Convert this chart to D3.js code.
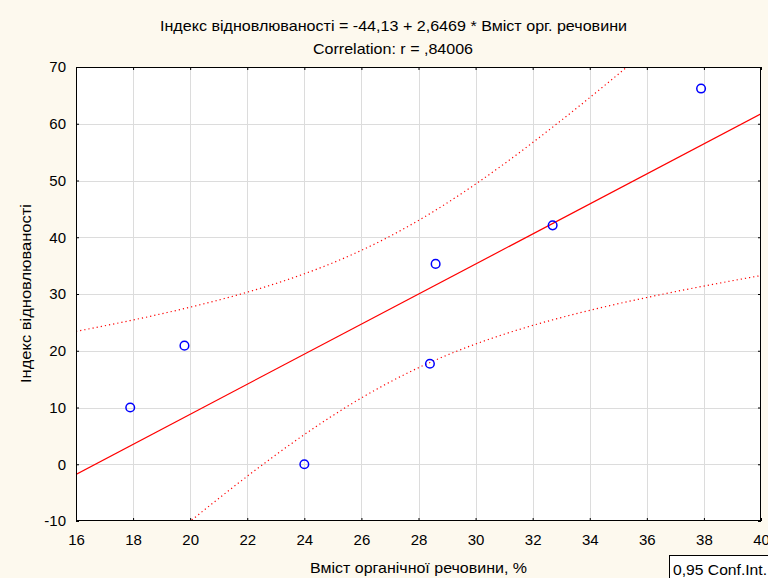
<!DOCTYPE html>
<html>
<head>
<meta charset="utf-8">
<script src="https://cdn.jsdelivr.net/npm/d3@7"></script>
<style>
  html, body { margin: 0; padding: 0; background: #fdf9ee; }
  svg { display: block; }
  text { font-family: "Liberation Sans", Arial, sans-serif; fill: #000; }
</style>
</head>
<body>
<svg id="chart" width="768" height="578"></svg>
<script>
// Organic matter content (%) and recovery index for each sample
const organic  = [17.9, 19.8, 24.0, 28.4, 28.6, 32.7, 37.9];
const recovery = [10.0, 20.9, 0.0, 17.7, 35.3, 42.1, 66.2];

// Fitted regression coefficients and confidence level
const intercept = -44.13;
const slope = 2.6469;
const tCrit = 2.5706; // Student t, 0.975, df = 5

const xTicks = [16, 18, 20, 22, 24, 26, 28, 30, 32, 34, 36, 38, 40];
const yTicks = [-10, 0, 10, 20, 30, 40, 50, 60, 70];

const titleText = "Індекс відновлюваності = -44,13 + 2,6469 * Вміст орг. речовини";
const subtitleText = "Correlation: r = ,84006";
const xLabel = "Вміст органічної речовини, %";
const yLabel = "Індекс відновлюваності";
const legendText = "0,95 Conf.Int.";

const svg = d3.select("#chart");
const m = { left: 76, right: 761, top: 67, bottom: 521 };

const x = d3.scaleLinear().domain([16, 40]).range([m.left, m.right]);
const y = d3.scaleLinear().domain([-10, 70]).range([m.bottom, m.top]);

// plot area
svg.append("rect")
  .attr("x", m.left).attr("y", m.top)
  .attr("width", m.right - m.left).attr("height", m.bottom - m.top)
  .attr("fill", "#fff");

// grid
const grid = svg.append("g").attr("stroke", "#dcdcdc").attr("stroke-width", 1);
grid.selectAll(".gx").data(xTicks.slice(1, -1)).join("line")
  .attr("x1", d => Math.round(x(d)) + 0.5).attr("x2", d => Math.round(x(d)) + 0.5)
  .attr("y1", m.top).attr("y2", m.bottom);
grid.selectAll(".gy").data(yTicks.slice(1, -1)).join("line")
  .attr("y1", d => Math.round(y(d)) + 0.5).attr("y2", d => Math.round(y(d)) + 0.5)
  .attr("x1", m.left).attr("x2", m.right);

// regression statistics for the confidence band
const n = organic.length;
const xMean = d3.mean(organic);
const sxx = d3.sum(organic, v => (v - xMean) ** 2);
const sse = d3.sum(organic, (v, i) => (recovery[i] - (intercept + slope * v)) ** 2);
const s = Math.sqrt(sse / (n - 2));
const fit = v => intercept + slope * v;
const half = v => tCrit * s * Math.sqrt(1 / n + (v - xMean) ** 2 / sxx);

const xs = d3.range(16, 40.001, 0.1);
svg.append("clipPath").attr("id", "plotclip").append("rect")
  .attr("x", m.left).attr("y", m.top)
  .attr("width", m.right - m.left).attr("height", m.bottom - m.top);

const plot = svg.append("g").attr("clip-path", "url(#plotclip)");
const line = d3.line().x(d => x(d[0])).y(d => y(d[1]));

plot.append("path")
  .datum(xs.map(v => [v, fit(v) + half(v)]))
  .attr("d", line).attr("fill", "none")
  .attr("stroke", "#ff0000").attr("stroke-width", 1.2).attr("stroke-dasharray", "1.2,3");
plot.append("path")
  .datum(xs.map(v => [v, fit(v) - half(v)]))
  .attr("d", line).attr("fill", "none")
  .attr("stroke", "#ff0000").attr("stroke-width", 1.2).attr("stroke-dasharray", "1.2,3");
plot.append("path")
  .datum([[16, fit(16)], [40, fit(40)]])
  .attr("d", line).attr("fill", "none")
  .attr("stroke", "#ff0000").attr("stroke-width", 1.2);

// sample points
plot.selectAll("circle").data(organic).join("circle")
  .attr("cx", d => x(d)).attr("cy", (d, i) => y(recovery[i]))
  .attr("r", 4.3).attr("fill", "none")
  .attr("stroke", "#0000ff").attr("stroke-width", 1.5);

// frame
svg.append("rect")
  .attr("x", m.left + 0.5).attr("y", m.top + 0.5)
  .attr("width", m.right - m.left - 1).attr("height", m.bottom - m.top - 1)
  .attr("fill", "none").attr("stroke", "#000").attr("stroke-width", 1);

// axes (inner ticks on every side)
const tickLen = 3;
const fmt = d => String(d);
svg.append("g").attr("transform", `translate(0,${m.bottom})`)
  .call(d3.axisBottom(x).tickValues(xTicks).tickSize(-tickLen).tickPadding(13).tickFormat(fmt))
  .call(g => g.select(".domain").remove())
  .call(g => g.selectAll("text").attr("font-size", 15).attr("dy", "0.71em"));
svg.append("g").attr("transform", `translate(0,${m.top})`)
  .call(d3.axisTop(x).tickValues(xTicks).tickSize(-tickLen).tickFormat(""))
  .call(g => g.select(".domain").remove());
svg.append("g").attr("transform", `translate(${m.left},0)`)
  .call(d3.axisLeft(y).tickValues(yTicks).tickSize(-tickLen).tickPadding(10).tickFormat(fmt))
  .call(g => g.select(".domain").remove())
  .call(g => g.selectAll("text").attr("font-size", 15));
svg.append("g").attr("transform", `translate(${m.right},0)`)
  .call(d3.axisRight(y).tickValues(yTicks).tickSize(-tickLen).tickFormat(""))
  .call(g => g.select(".domain").remove());
svg.selectAll(".tick line").attr("stroke", "#000");
svg.selectAll(".tick text").attr("font-family", "Liberation Sans, Arial, sans-serif").attr("fill", "#000");

// titles
const label = (tx, ty, str, len, rot) => {
  const t = svg.append("text").attr("font-size", 15).attr("text-anchor", "middle")
    .attr("textLength", len).attr("lengthAdjust", "spacingAndGlyphs").text(str);
  if (rot) t.attr("transform", `translate(${tx},${ty}) rotate(-90)`);
  else t.attr("x", tx).attr("y", ty);
  return t;
};
label(393.5, 31, titleText, 467);
label(393, 54, subtitleText, 160);
label(418.5, 573, xLabel, 217);
label(31, 293.5, yLabel, 179, true);

// legend box
svg.append("rect").attr("x", 669.5).attr("y", 555.5).attr("width", 110).attr("height", 30)
  .attr("fill", "#fff").attr("stroke", "#000").attr("stroke-width", 1);
svg.append("text").attr("x", 673).attr("y", 575).attr("font-size", 15)
  .attr("textLength", 94).attr("lengthAdjust", "spacingAndGlyphs").text(legendText);
</script>
</body>
</html>
